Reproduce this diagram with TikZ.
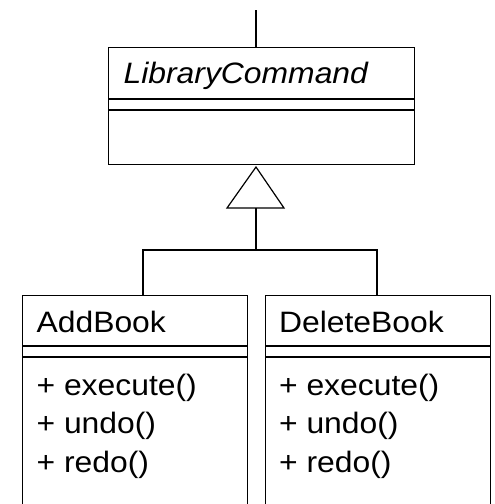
\documentclass[tikz,border=0pt]{standalone}
\usepackage{fontspec}
\newfontfamily\umlfont[FakeStretch=1.08]{Liberation Sans}
\begin{document}
\begin{tikzpicture}[x=1pt,y=-1pt,line width=1.2pt,
  classbox/.style={draw,rectangle,inner sep=0pt,anchor=north west},
  umltext/.style={anchor=base west,inner sep=0pt,font=\umlfont\fontsize{29.5}{36}\selectfont},
  conn/.style={draw,line width=1.2pt}]
\useasboundingbox (0,0) rectangle (495,504);
\clip (0,0) rectangle (495,504);
% abstract class
\node[classbox,minimum width=306pt,minimum height=117pt] (lc) at (108,47) {};
\node[umltext] (lcname) at (123,83) {\itshape LibraryCommand};
\draw (108,99) -- (414,99);
\draw (108,110) -- (414,110);
\coordinate (topend) at (256,10);
\coordinate (lctop) at (256,47);
\draw (topend) -- (lctop);
% generalization triangle
\coordinate (apex) at (256,167);
\coordinate (bl) at (227,208);
\coordinate (br) at (284,208);
\coordinate (base) at (256,208);
\draw[line join=miter] (apex) -- (bl) -- (br) -- cycle;
\coordinate (fork) at (256,250);
\coordinate (forkl) at (143,250);
\coordinate (forkr) at (377,250);
\coordinate (abtop) at (143,295);
\coordinate (dbtop) at (377,295);
\draw (base) -- (fork);
\draw (abtop) -- (forkl) -- (forkr) -- (dbtop);
% AddBook
\node[classbox,minimum width=225pt,minimum height=240pt] (ab) at (22,295) {};
\node[umltext] (abname) at (36,332) {AddBook};
\draw (22,346) -- (247,346);
\draw (22,357) -- (247,357);
\node[umltext] (abm1) at (36,395) {+ execute()};
\node[umltext] (abm2) at (36,433) {+ undo()};
\node[umltext] (abm3) at (36,472) {+ redo()};
% DeleteBook
\node[classbox,minimum width=225pt,minimum height=240pt] (db) at (265,295) {};
\node[umltext] (dbname) at (278.5,332) {DeleteBook};
\draw (265,346) -- (490,346);
\draw (265,357) -- (490,357);
\node[umltext] (dbm1) at (278.5,395) {+ execute()};
\node[umltext] (dbm2) at (278.5,433) {+ undo()};
\node[umltext] (dbm3) at (278.5,472) {+ redo()};
\end{tikzpicture}
\end{document}
